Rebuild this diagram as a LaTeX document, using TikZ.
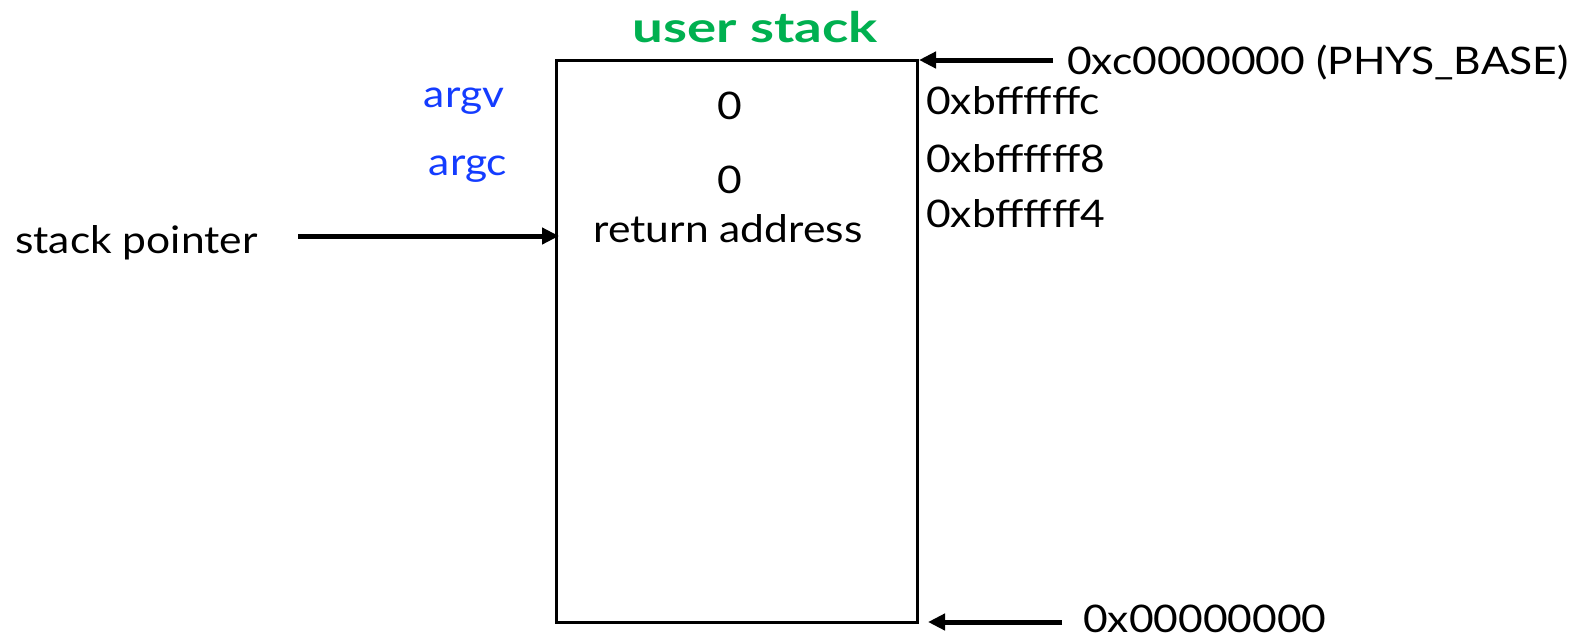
\documentclass[tikz,border=0pt]{standalone}
\usepackage{fontspec}
\setmainfont{Lato}[FakeStretch=1.12]
\newfontfamily\titlefont{Lato}[FakeStretch=1.3]
\usetikzlibrary{arrows.meta}
\definecolor{ugreen}{RGB}{0,176,80}
\definecolor{ublue}{RGB}{20,60,255}
\tikzset{
  txt/.style={inner sep=0pt, font=\fontsize{38}{44}\selectfont},
  arr/.style={line width=5pt, -{Triangle[length=17pt,width=16pt]}},
}
\begin{document}
\begin{tikzpicture}[x=1pt,y=-1pt]
\useasboundingbox (0,0) rectangle (1596,643);
\node[draw, line width=3pt, outer sep=0pt, minimum width=361pt, minimum height=562pt, inner sep=0pt, anchor=north west] (box) at (556,60) {};
\node[txt, font=\fontsize{42}{48}\titlefont\bfseries, text=ugreen, anchor=base] (title) at (755,42) {user stack};
\node[txt, text=ublue, anchor=base] (argv) at (464,107) {argv};
\node[txt, text=ublue, anchor=base] (argc) at (468,175) {argc};
\node[txt, anchor=base] (z1) at (730,119) {0};
\node[txt, anchor=base] (z2) at (730,193) {0};
\node[txt, anchor=base] (ret) at (728,242) {return address};
\node[txt, anchor=base west] (a1) at (926,114) {0xbffffffc};
\node[txt, anchor=base west] (a2) at (926,172) {0xbffffff8};
\node[txt, anchor=base west] (a3) at (926,227) {0xbffffff4};
\node[txt, anchor=base west] (top) at (1067,74) {0xc0000000 (PHYS\_BASE)};
\node[txt, anchor=base west] (bot) at (1083,632) {0x00000000};
\node[txt, anchor=base west] (sp) at (15,253) {stack pointer};
\coordinate (tc) at ([xshift=2pt]box.north east);
\coordinate (bc) at ([xshift=11pt]box.south east);
\coordinate (sc) at ([xshift=3pt,yshift=-176pt]box.north west);
\coordinate (ts) at (1053,60);
\coordinate (bs) at (1062,622);
\coordinate (ss) at (298,236);
\draw[arr] (ts) -- (tc);
\draw[arr] (bs) -- (bc);
\draw[arr] (ss) -- (sc);
\end{tikzpicture}
\end{document}
